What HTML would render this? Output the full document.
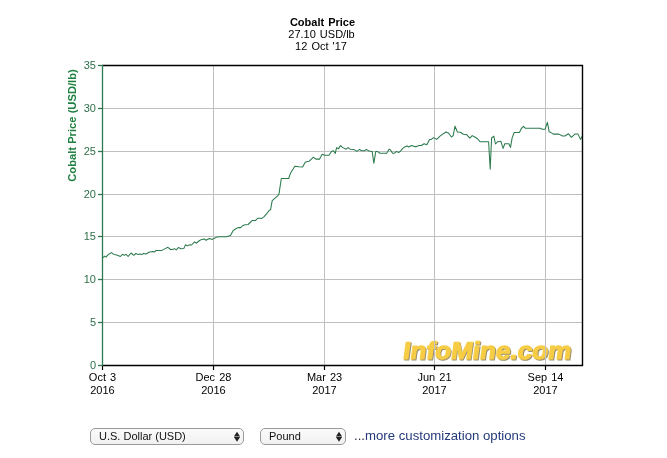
<!DOCTYPE html>
<html><head><meta charset="utf-8">
<style>
html,body{margin:0;padding:0;background:#fff;width:667px;height:458px;overflow:hidden}
body{position:relative;font-family:"Liberation Sans",sans-serif}
svg.main{position:absolute;left:0;top:0;will-change:transform}
.sel,.link{will-change:transform}
.sel{position:absolute;top:428px;height:15px;border:1px solid #9a9a9a;border-radius:5px;background:linear-gradient(#fafafa,#f1f1f1);font:11px "Liberation Sans",sans-serif;color:#111;line-height:15px;box-sizing:content-box}
.sel span{position:absolute;left:8px;top:0}
.link{position:absolute;left:354px;top:428px;font:13.2px "Liberation Sans",sans-serif;color:#23397a;white-space:nowrap}
</style></head><body>
<svg class="main" width="667" height="458" viewBox="0 0 667 458">
<g font-family="Liberation Sans, sans-serif" text-anchor="middle" fill="#000" word-spacing="1">
<text x="322.5" y="26" font-size="11" font-weight="bold">Cobalt Price</text>
<text x="321.5" y="38" font-size="11">27.10 USD/lb</text>
<text x="321" y="50" font-size="11">12 Oct &#39;17</text>
</g>
<g font-family="Liberation Sans, sans-serif" font-weight="bold" font-size="24.4" transform="translate(402.3 358.7) skewX(-8) scale(1.07 1)">
<text x="1" y="1" fill="#7a6a40" stroke="#7a6a40" stroke-width="1.2" opacity="0.75">InfoMine.com</text>
<text x="0" y="0" fill="#f7cd45" stroke="#f7cd45" stroke-width="1.2">InfoMine.com</text>
</g>
<g stroke="#c0c0c0" stroke-width="1" shape-rendering="crispEdges">
<line x1="102" y1="108.5" x2="582" y2="108.5"/>
<line x1="102" y1="151.5" x2="582" y2="151.5"/>
<line x1="102" y1="194.5" x2="582" y2="194.5"/>
<line x1="102" y1="236.5" x2="582" y2="236.5"/>
<line x1="102" y1="279.5" x2="582" y2="279.5"/>
<line x1="102" y1="322.5" x2="582" y2="322.5"/>
<line x1="213.5" y1="65" x2="213.5" y2="365"/>
<line x1="324.5" y1="65" x2="324.5" y2="365"/>
<line x1="434.5" y1="65" x2="434.5" y2="365"/>
<line x1="545.5" y1="65" x2="545.5" y2="365"/>
</g>
<polyline fill="none" stroke="#2a7a4c" stroke-width="1.05" stroke-linejoin="round" points="102.0,258.5 102.7,258.0 104.5,256.2 106.0,257.1 108.4,254.4 111.4,252.6 113.8,254.4 115.9,254.7 118.0,255.4 120.4,256.5 122.5,254.4 124.3,255.3 126.0,254.4 128.1,256.5 131.1,253.0 133.8,255.3 135.9,253.5 137.7,254.4 140.0,254.0 141.8,254.6 143.6,253.4 146.0,254.0 149.0,252.3 152.6,251.5 154.4,252.0 156.2,250.4 161.9,250.4 165.2,248.6 167.9,247.3 170.6,249.5 172.7,249.5 174.5,248.6 176.3,249.9 178.4,247.5 180.0,248.3 180.7,248.8 183.8,248.6 185.6,244.8 187.4,245.9 189.7,244.8 191.5,245.0 194.6,241.9 196.4,243.2 199.6,240.5 201.8,239.4 204.5,238.9 205.9,240.3 209.5,238.5 212.2,239.4 214.0,238.5 216.7,237.1 220.0,236.7 226.6,236.7 230.5,235.4 233.2,230.6 235.0,229.3 238.0,227.6 240.7,227.6 242.8,225.5 245.2,224.7 248.1,224.5 252.3,220.4 255.6,220.4 257.7,218.3 260.0,218.3 261.4,218.6 264.1,216.6 266.8,213.6 269.4,210.3 270.5,209.8 272.2,200.7 277.9,195.6 279.0,193.9 281.3,178.5 288.7,178.5 289.8,175.1 290.5,173.3 294.8,166.2 299.0,166.7 302.6,167.0 305.4,162.0 309.0,161.3 313.2,157.3 316.0,159.1 319.6,159.1 322.2,154.3 324.5,155.2 329.0,155.2 331.7,151.2 333.5,150.7 335.3,153.4 336.6,147.6 338.4,148.9 340.5,145.6 342.9,147.6 346.1,149.2 348.1,147.6 350.1,149.2 353.7,149.4 356.9,151.4 359.6,149.4 361.4,150.7 365.0,150.7 366.3,149.4 369.0,151.0 372.2,151.4 373.8,163.3 375.8,151.4 377.6,151.6 380.0,153.3 386.7,153.3 389.0,149.3 390.3,149.7 392.6,153.3 394.4,153.3 396.2,151.5 398.9,152.4 400.2,151.5 402.5,148.6 404.7,146.9 407.0,145.9 408.8,147.0 411.5,145.5 414.6,146.6 416.4,146.6 419.1,145.5 421.4,145.5 424.1,143.7 426.8,144.8 429.5,139.4 431.3,139.4 433.5,137.6 436.7,139.4 440.0,136.2 442.4,134.4 446.0,132.0 448.4,133.0 451.4,137.0 453.2,135.6 455.0,126.2 457.4,132.0 460.4,132.2 463.4,134.2 466.4,134.4 469.8,138.2 472.2,135.6 474.8,137.0 477.8,139.0 480.2,141.8 488.6,141.8 490.2,169.2 491.6,138.0 493.8,136.2 495.5,144.0 497.6,141.8 500.9,141.3 503.1,148.4 504.8,143.7 508.8,143.7 510.5,147.4 512.2,137.6 514.2,132.5 519.4,132.5 521.5,128.3 523.5,126.3 525.5,128.3 540.2,128.3 542.2,129.2 545.1,129.2 547.4,122.3 549.2,131.8 550.7,132.4 553.4,134.1 558.8,134.1 562.6,136.0 564.9,136.0 568.3,133.7 571.4,137.3 574.8,134.1 577.9,133.9 580.5,139.4 582.0,136.4"/>
<g stroke="#000" stroke-width="1.4" fill="none">
<line x1="102" y1="65.5" x2="583" y2="65.5"/>
<line x1="582.5" y1="65" x2="582.5" y2="366"/>
<line x1="102" y1="365.5" x2="583" y2="365.5"/>
</g>
<g stroke="#000" stroke-width="1.2">
<line x1="213.5" y1="365" x2="213.5" y2="370"/>
<line x1="324.5" y1="365" x2="324.5" y2="370"/>
<line x1="434.5" y1="365" x2="434.5" y2="370"/>
<line x1="545.5" y1="365" x2="545.5" y2="370"/>
<line x1="102.5" y1="365" x2="102.5" y2="370"/>
</g>
<g stroke="#2e7a50" stroke-width="1.3">
<line x1="102.5" y1="65" x2="102.5" y2="366"/>
<line x1="98" y1="65.5" x2="102" y2="65.5"/>
<line x1="98" y1="108.5" x2="102" y2="108.5"/>
<line x1="98" y1="151.5" x2="102" y2="151.5"/>
<line x1="98" y1="194.5" x2="102" y2="194.5"/>
<line x1="98" y1="236.5" x2="102" y2="236.5"/>
<line x1="98" y1="279.5" x2="102" y2="279.5"/>
<line x1="98" y1="322.5" x2="102" y2="322.5"/>
<line x1="98" y1="365.5" x2="102" y2="365.5"/>
</g>
<g font-family="Liberation Sans, sans-serif" font-size="11" fill="#2e6e4a" text-anchor="end">
<text x="96" y="69">35</text>
<text x="96" y="112">30</text>
<text x="96" y="155">25</text>
<text x="96" y="198">20</text>
<text x="96" y="240">15</text>
<text x="96" y="283">10</text>
<text x="96" y="326">5</text>
<text x="96" y="369">0</text>
</g>
<text transform="translate(76 125.5) rotate(-90)" font-family="Liberation Sans, sans-serif" font-size="11.2" font-weight="bold" fill="#1f8040" text-anchor="middle">Cobalt Price (USD/lb)</text>
<g font-family="Liberation Sans, sans-serif" font-size="11" fill="#000" text-anchor="middle" word-spacing="1">
<text x="102.5" y="381">Oct 3</text><text x="102.5" y="394">2016</text>
<text x="213.5" y="381">Dec 28</text><text x="213.5" y="394">2016</text>
<text x="324.5" y="381">Mar 23</text><text x="324.5" y="394">2017</text>
<text x="434.5" y="381">Jun 21</text><text x="434.5" y="394">2017</text>
<text x="545.5" y="381">Sep 14</text><text x="545.5" y="394">2017</text>
</g>
</svg>
<div class="sel" style="left:90px;width:152px"><span>U.S. Dollar (USD)</span>
<svg width="6" height="10" overflow="visible" style="position:absolute;overflow:visible;left:143px;top:3px"><path d="M3 -0.2 L6.1 4.5 L-0.1 4.5Z M-0.1 5.1 L6.1 5.1 L3 9.8Z" fill="#222"/></svg></div>
<div class="sel" style="left:260px;width:84px"><span>Pound</span>
<svg width="6" height="10" overflow="visible" style="position:absolute;overflow:visible;left:75px;top:3px"><path d="M3 -0.2 L6.1 4.5 L-0.1 4.5Z M-0.1 5.1 L6.1 5.1 L3 9.8Z" fill="#222"/></svg></div>
<div class="link"><span style="color:#2a2f45">...</span>more customization options</div>
</body></html>
